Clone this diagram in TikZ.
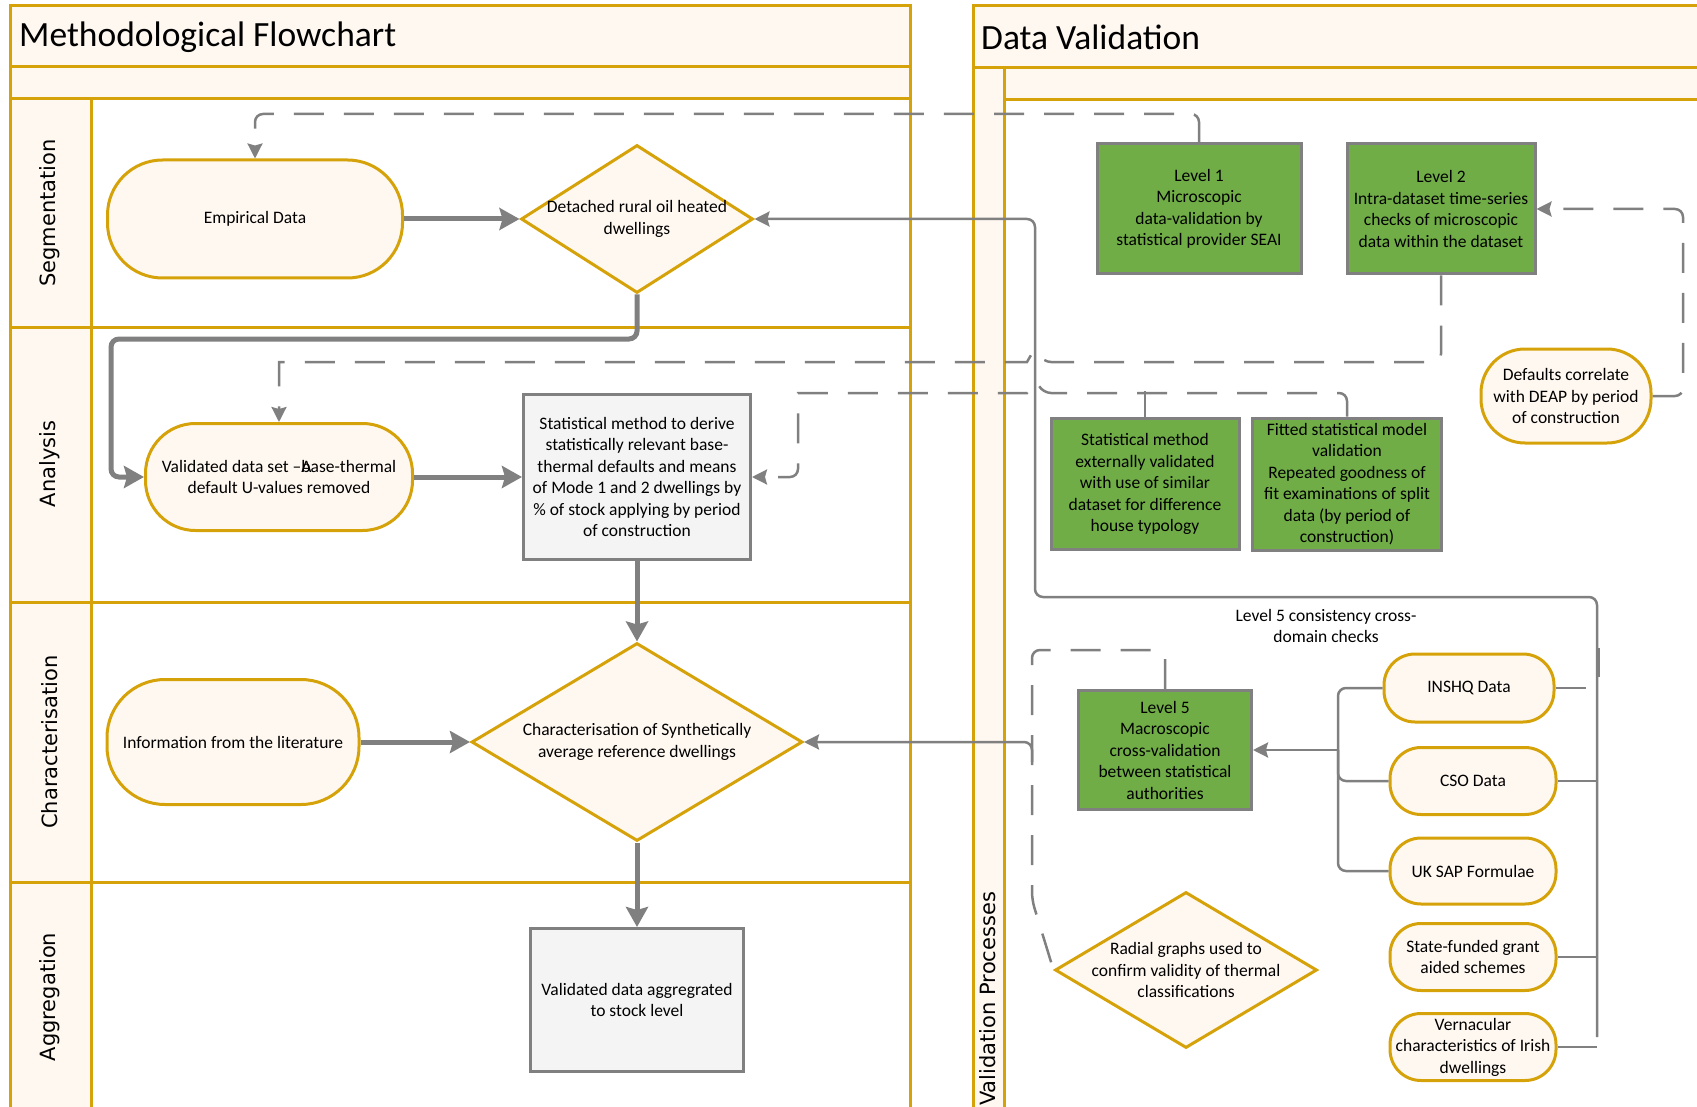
\documentclass[tikz,border=0pt]{standalone}
\usepackage{fontspec}
\setmainfont{Carlito}
\newfontfamily\lanefont{DejaVu Sans}
\usepackage{xcolor}
\usepackage{tikz}
\usetikzlibrary{arrows.meta}
\usetikzlibrary{shapes.geometric}
\definecolor{lanegold}{RGB}{214,162,10}
\definecolor{lanecream}{RGB}{255,248,241}
\definecolor{wiregray}{RGB}{128,128,128}
\definecolor{stepgray}{RGB}{244,244,244}
\definecolor{checkgreen}{RGB}{112,173,71}
\tikzset{pool/.style={draw=lanegold,line width=3pt},
  band/.style={pool,fill=lanecream},
  lanelabel/.style={font=\lanefont\fontsize{21}{25}\selectfont,rotate=90,inner sep=0pt},
  terminal/.style={draw=lanegold,fill=lanecream,line width=3pt,rounded corners=#1,align=center,inner sep=0pt},
  terminal/.default=31pt,
  decision/.style={diamond,draw=lanegold,fill=lanecream,line width=3pt,inner sep=0pt},
  process/.style={draw=wiregray,fill=stepgray,line width=3pt,align=center,inner sep=0pt},
  check/.style={draw=wiregray,fill=checkgreen,line width=3pt,align=center,inner sep=0pt},
  flow/.style={draw=wiregray,line width=5pt,rounded corners=8pt,-{Stealth[length=20pt,width=22pt,inset=3pt]}},
  link/.style={draw=wiregray,line width=2.5pt,rounded corners=8pt},
  dashlink/.style={link,dash pattern=on 30pt off 20pt},
  smallhead/.style={-{Stealth[length=15pt,width=15pt,inset=2pt]}}
}

\begin{document}
\begin{tikzpicture}[x=1pt,y=-1pt,font=\fontsize{17.5}{21.5}\selectfont]
  \useasboundingbox (0,0) rectangle (1697,1107);
  \clip (0,0) rectangle (1697,1107);

  % left pool
  \draw[band] (10,6) rectangle (910,67);
  \draw[band] (10,67) rectangle (910,99);
  \draw[band] (10,99) rectangle (91,1130);
  \draw[pool] (91,99) rectangle (910,1130);
  \draw[pool] (10,327) -- (910,327);
  \draw[pool] (10,602) -- (910,602);
  \draw[pool] (10,882) -- (910,882);
  % right pool
  \draw[band] (973,6) rectangle (1720,68);
  \draw[band] (973,68) rectangle (1004,1130);
  \draw[band] (1004,68) rectangle (1720,100);
  \draw[pool] (1004,100) rectangle (1720,1130);

  \node[anchor=west,inner sep=0pt,font=\fontsize{35.5}{42}\selectfont] (mfTitle) at (19,37) {Methodological Flowchart};
  \node[anchor=west,inner sep=0pt,font=\fontsize{35.5}{42}\selectfont] (dvTitle) at (981,37) {Data Validation};

  \begin{scope}[every node/.style={lanelabel}]
    \node (segLane) at (50,213) {Segmentation};
    \node (anaLane) at (50,464) {Analysis};
    \node (chaLane) at (50,742) {Characterisation};
    \node (aggLane) at (50,997) {Aggregation};
    \node[anchor=west] (valLane) at (988,1106) {Validation Processes};
  \end{scope}

  % flowchart steps
  \node[terminal=55pt,minimum width=295pt,minimum height=118pt] (emp) at (255,219) {Empirical Data};
  \node[decision,minimum width=232pt,minimum height=148pt,label={[align=center]center:Detached rural oil heated\\dwellings}] (det) at (637,219) {};
  \node[terminal=50pt,minimum width=267pt,minimum height=107pt] (val) at (279,477) {Validated data set –\rlap{A}base-thermal\\default U-values removed};
  \node[process,minimum width=227pt,minimum height=165pt] (stat) at (637,477) {Statistical method to derive\\statistically relevant base-\\thermal defaults and means\\of Mode 1 and 2 dwellings by\\\% of stock applying by period\\of construction};
  \node[terminal=58pt,minimum width=252pt,minimum height=125pt] (info) at (233,742) {Information from the literature};
  \node[decision,minimum width=331pt,minimum height=198pt,label={[align=center]center:Characterisation of Synthetically\\average reference dwellings}] (chr) at (637,742) {};
  \node[process,minimum width=213pt,minimum height=143pt] (agg) at (637,1000) {Validated data aggregrated\\to stock level};

  % validation checks
  \node[check,minimum width=204pt,minimum height=130pt] (lv1) at (1199,209) {Level 1\\Microscopic\\data-validation by\\statistical provider SEAI};
  \node[check,minimum width=188pt,minimum height=130pt] (lv2) at (1441,209) {Level 2\\Intra-dataset time-series\\checks of microscopic\\data within the dataset};
  \node[check,minimum width=188pt,minimum height=131pt] (ext) at (1145,484) {Statistical method\\externally validated\\with use of similar\\dataset for difference\\house typology};
  \node[check,minimum width=189pt,minimum height=132pt] (fit) at (1347,484) {Fitted statistical model\\validation\\Repeated goodness of\\fit examinations of split\\data (by period of\\construction)};
  \node[terminal=44pt,minimum width=170pt,minimum height=94pt] (dflt) at (1566,396) {Defaults correlate\\with DEAP by period\\of construction};
  \node[align=center] (l5note) at (1326,626) {Level 5 consistency cross-\\domain checks};
  \node[check,minimum width=173pt,minimum height=119pt] (lv5) at (1165,750) {Level 5\\Macroscopic\\cross-validation\\between statistical\\authorities};
  \node[terminal,minimum width=170pt,minimum height=68pt] (inshq) at (1469,688) {INSHQ Data};
  \node[terminal,minimum width=166pt,minimum height=67pt] (cso) at (1473,781) {CSO Data};
  \node[terminal,minimum width=166pt,minimum height=66pt] (uksap) at (1473,871) {UK SAP Formulae};
  \node[terminal,minimum width=166pt,minimum height=67pt] (state) at (1473,957) {State-funded grant\\aided schemes};
  \node[terminal,minimum width=166pt,minimum height=67pt] (vern) at (1473,1047) {Vernacular\\characteristics of Irish\\dwellings};
  \node[decision,minimum width=262pt,minimum height=156pt,label={[align=center]center:Radial graphs used to\\confirm validity of thermal\\classifications}] (rad) at (1186,970) {};

  \coordinate (trunk) at (1597,1037);
  \coordinate (hub) at (1338,750);
  \coordinate (chrFeed) at (1032,762);

  % main flow
  \begin{scope}[every edge/.style={flow}]
    \path (emp) edge (det);
    \path (val) edge (stat);
    \path (stat) edge (chr);
    \path (chr) edge (agg);
    \path (info) edge (chr);
  \end{scope}
  \draw[flow] (det.south) |- (111,339) |- (val.west);

  % feedback from the checks
  \draw[link,smallhead] (trunk) |- (1035,597) |- (det.east);
  \draw[link] (cso.east) -- (cso.east -| trunk);
  \draw[link] (state.east) -- (state.east -| trunk);
  \draw[link] (vern.east) -- (vern.east -| trunk);
  \draw[dashlink] (inshq.east) -- ++(43,0) -- ++(0,-40);
  \draw[link] (inshq.west) -| (hub);
  \draw[link] (cso.west) -| (hub);
  \draw[link] (uksap.west) -| (hub);
  \draw[link,smallhead] (hub) -- (lv5.east);
  \draw[link,smallhead] (chrFeed) |- (chr.east);
  \draw[dashlink] (lv5.north) -- ++(0,-39) -| (1032,900) -- (rad.west);
  \draw[dashlink,smallhead] (lv1.north) |- (255,114) -- (emp.north);
  % hops over the solid line
  \draw[dashlink,smallhead] (lv2.south) |- (1043,362) [sharp corners] .. controls (1035,348) .. (1027,362) -- (279,362) [rounded corners=8pt] -- (val.north);
  \draw[dashlink,smallhead] (fit.north) |- (1043,393) [sharp corners] .. controls (1035,379) .. (1027,393) -- (798,393) [rounded corners=8pt] |- (stat.east);
  \draw[dashlink] (ext.north) -- ++(0,-26);
  \draw[dashlink,smallhead] (dflt.east) -- (1683,396) |- (lv2.east);
\end{tikzpicture}
\end{document}
